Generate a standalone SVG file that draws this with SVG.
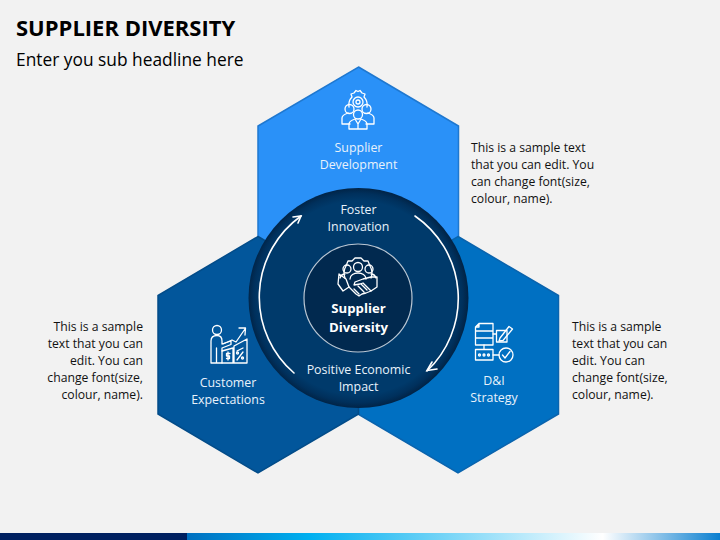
<svg xmlns="http://www.w3.org/2000/svg" width="720" height="540" viewBox="0 0 720 540">
<style>
text{font-family:"Open Sans","Noto Sans",sans-serif}
.lbl{fill:#e8f2fb;font-size:12.4px;text-anchor:middle}
.desc{fill:#111;font-size:12.2px}
.r{text-anchor:end}
.ic{fill:none;stroke:#fff;stroke-width:1.3;stroke-linejoin:round;stroke-linecap:round}
.arr{fill:none;stroke:#fff;stroke-width:1.6;stroke-linecap:round}
.ctr{font-size:13.2px;font-weight:700;fill:#fff;text-anchor:middle}
</style>
<defs>
<linearGradient id="bar" x1="0" x2="1" y1="0" y2="0">
<stop offset="0" stop-color="#0070c0"/><stop offset=".23" stop-color="#00b0f0"/><stop offset=".78" stop-color="#fff"/><stop offset="1" stop-color="#0a7fd0"/>
</linearGradient>
<radialGradient id="ring" gradientUnits="userSpaceOnUse" cx="358" cy="298" r="110">
<stop offset="0" stop-color="#003a6b"/><stop offset=".88" stop-color="#003a6b"/><stop offset=".95" stop-color="#00305c"/><stop offset="1" stop-color="#012447"/>
</radialGradient>
</defs>
<rect width="720" height="540" fill="#f2f2f2"/>
<rect y="533" width="187" height="7" fill="#002060"/>
<rect x="187" y="533" width="533" height="7" fill="url(#bar)"/>
<text x="16" y="36" font-size="22" font-weight="700" fill="#000">SUPPLIER DIVERSITY</text>
<text x="16" y="66" font-size="17.350" fill="#000">Enter you sub headline here</text>

<g id="node-top">
<path d="M358.500 67L458.500 126V244L358.500 303L258 244V126Z" fill="#2a91f8" stroke="#1f78d0" stroke-width="1.500"/>
<g class="ic" transform="translate(358 113)">
<circle cx="0" cy="-11" r="5"/><circle cx="0" cy="-11" r="2"/>
<path d="M-9-6A11.500 11.500 0 0 1-6-16L-7-19-4-20-2-22.500 0-21.500 2-22.500 4-20 7-19 6-16A11.500 11.500 0 0 1 9-6"/>
<circle cx="-8.500" cy="-4" r="4.500"/><circle cx="8.500" cy="-4" r="4.500"/><circle cx="0" cy="1.500" r="4.500"/>
<path d="M-16 11V5C-16 2-13 1-10 0M-16 11H-8M16 11V5C16 2 13 1 10 0M16 11H8"/>
<path d="M-9 16V11C-9 8-6 7-3 6L0 11 3 6C6 7 9 8 9 11V16ZM0 11V16"/>
</g>
<text class="lbl" x="358.500" y="152">Supplier</text>
<text class="lbl" x="358.500" y="169">Development</text>
</g>

<g id="node-right">
<path d="M458 236.500L558.500 295.500V414L458 473L358 414V295Z" fill="#0070c2" stroke="#0a64ae" stroke-width="1.500"/>
<g class="ic">
<path d="M475.500 345V327L479 323.500H493V345ZM475.500 331H493M475.500 338H493M479 323.500V327H475.500"/>
<path d="M493 334H496.500M496.500 330.500H507V342H496.500Z"/>
<path d="M500 338L509 326.500 512.500 329 503 340.500 499 341Z"/>
<path d="M484 345V349M475.500 349.500H493V360H475.500Z"/>
<circle cx="479.500" cy="355" r="1"/><circle cx="484" cy="355" r="1"/><circle cx="488.500" cy="355" r="1"/>
<path d="M493 355H499"/><circle cx="506" cy="355" r="7"/><path d="M502.500 355L505 358 510 351.500"/>
</g>
<text class="lbl" x="494" y="385">D&amp;I</text>
<text class="lbl" x="494" y="402">Strategy</text>
</g>

<g id="node-left">
<path d="M258 236.500L358.500 295.500V414L258 473L158 414V295.500Z" fill="#02569b" stroke="#034c89" stroke-width="1.500"/>
<g class="ic">
<circle cx="217" cy="330" r="4.500"/>
<path d="M211 363V341C211 337 213 335.500 217 335.500C220 335.500 222 337 222 341V344L231 341V344.500L222 348V363ZM216.500 348V363"/>
<path d="M223 344L232 340 236 342 245 329M239 328H245.500L245 335"/>
<path d="M222 363H233V348L222 351M233 363H247V339L234 346V363"/>
<path d="M237 351L243 348M237 360L243 352"/>
<circle cx="237.500" cy="353" r="1"/><circle cx="242.500" cy="358" r="1"/>
<path d="M228 352V360M230 353.500H226.500V356H229.500V358.500H226.500"/>
</g>
<text class="lbl" x="228" y="387">Customer</text>
<text class="lbl" x="228" y="404">Expectations</text>
</g>

<g id="node-center">
<circle cx="358.500" cy="298" r="110" fill="url(#ring)"/>
<circle cx="358" cy="298" r="54" fill="#01294f" stroke="#b9c6d3" stroke-width="1.200"/>
<g class="ic" stroke-width="1.100" transform="translate(358 280)">
<path d="M-13-2A14 14 0 0 1-12-14L-10-19-6-19-3-22 3-22 6-19 10-19 12-14A14 14 0 0 1 13-2"/>
<circle cx="0" cy="-13" r="4.500"/><circle cx="-11" cy="-11" r="4"/><circle cx="11" cy="-11" r="4"/>
<path d="M-8-1C-8-5-4-7 0-7 4-7 8-5 8-1M-18-2C-17-5-15-6-13-6M18-2C17-5 15-6 13-6"/>
<path d="M-19-6L-12-1-9 7-15 11-20 4ZM19-3L13-3 5-1 -3 2-4 5 2 4 5 3 13 11 19 7Z"/>
<path d="M-9 7L-2 14 1 16 4 14 8 13 13 11M-4 9L1 14M0 6L6 12M3 4L9 10"/>
</g>
<text class="ctr" x="358.500" y="313">Supplier</text>
<text class="ctr" x="358.500" y="332">Diversity</text>
<text class="lbl" x="358.500" y="214">Foster</text>
<text class="lbl" x="358.500" y="231">Innovation</text>
<text class="lbl" x="358.500" y="374">Positive Economic</text>
<text class="lbl" x="358.500" y="391">Impact</text>
</g>

<g id="connectors">
<path class="arr" d="M294 373A100 100 0 0 1 301 216"/>
<path class="arr" d="M293 217L301 216 298 223"/>
<path class="arr" d="M415 216A100 100 0 0 1 427 371"/>
<path class="arr" d="M432 362L427 370.500 437 369"/>
</g>

<g id="text-right-top" class="desc">
<text x="471" y="152">This is a sample text</text>
<text x="471" y="169">that you can edit. You</text>
<text x="471" y="186">can change font(size,</text>
<text x="471" y="203">colour, name).</text>
</g>
<g id="text-right" class="desc">
<text x="572" y="331">This is a sample</text>
<text x="572" y="348">text that you can</text>
<text x="572" y="365">edit. You can</text>
<text x="572" y="382">change font(size,</text>
<text x="572" y="399">colour, name).</text>
</g>
<g id="text-left" class="desc r">
<text class="r" x="143" y="331">This is a sample</text>
<text class="r" x="143" y="348">text that you can</text>
<text class="r" x="143" y="365">edit. You can</text>
<text class="r" x="143" y="382">change font(size,</text>
<text class="r" x="143" y="399">colour, name).</text>
</g>
</svg>
